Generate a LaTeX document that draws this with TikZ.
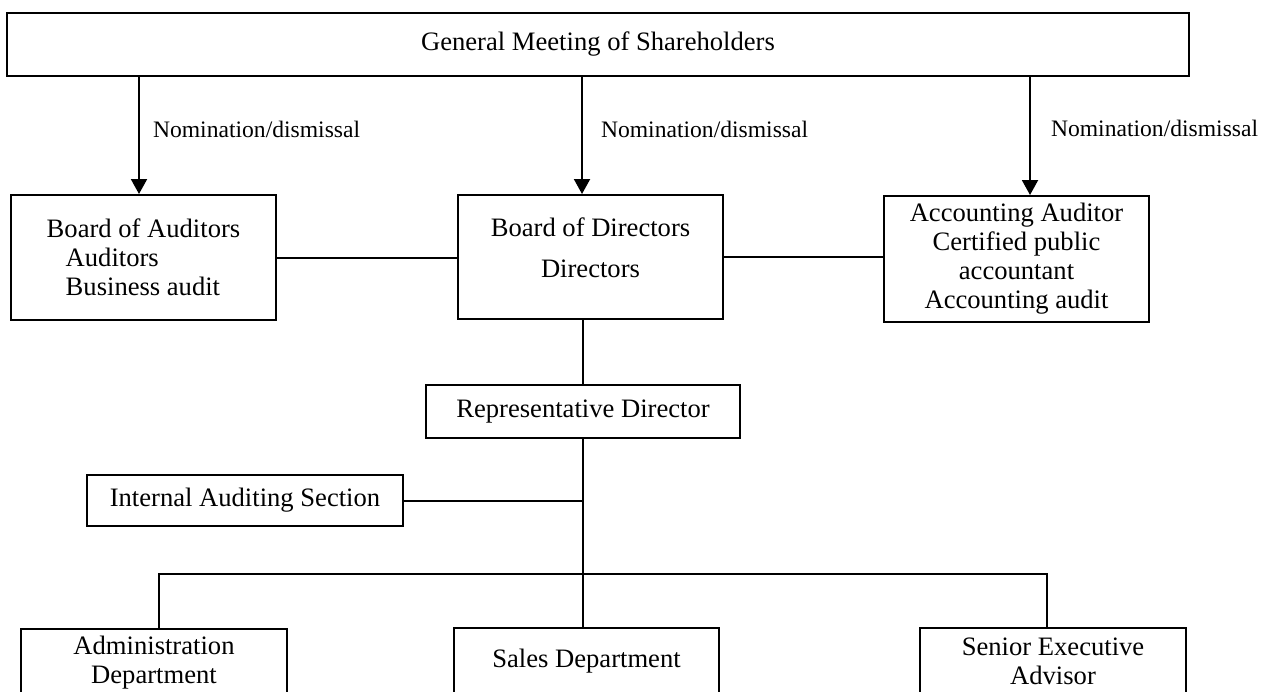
\documentclass[tikz,border=0pt]{standalone}
\usepackage{fontspec}
\setmainfont{Liberation Serif}
\usepackage{tikz}
\usetikzlibrary{positioning,arrows.meta}

\begin{document}
\begin{tikzpicture}[
  x=0.5pt, y=-0.5pt,
  box/.style   = {rectangle, draw, line width=1pt, inner sep=0pt, align=center,
                  font=\fontsize{13.3}{14.5}\selectfont},
  line/.style  = {line width=1pt},
  arrow/.style = {-{Triangle[length=7.5pt,width=8pt]}, line width=1pt},
  lbl/.style   = {font=\fontsize{11.8}{14}\selectfont, inner sep=0pt, anchor=west}
]
  \path[use as bounding box, clip] (0,0) rectangle (1261,691);

  % ---- Row 0: shareholders ----
  \node[box, minimum width=591pt, minimum height=31.5pt] at (598, 44.5) (gms) {General Meeting of Shareholders};

  % ---- Row 1: boards ----
  \node[box, minimum width=132.5pt, minimum height=62.5pt, align=left] at (143.5, 257.5) (boa)
    {Board of Auditors\\\hspace*{9.5pt}Auditors\\\hspace*{9.5pt}Business audit};
  \node[box, minimum width=132.5pt, minimum height=62pt] at (590.5, 257) (bod)
    {Board of Directors\\[6pt]Directors\\[-5.5pt]\mbox{}};
  \node[box, minimum width=132.5pt, minimum height=63pt] at (1016.5, 259) (acc)
    {Accounting Auditor\\Certified public\\accountant\\Accounting audit};

  % ---- Row 2: executive ----
  \node[box, minimum width=157pt, minimum height=26.5pt] at (583, 411.5) (rep) {Representative Director};
  \node[box, minimum width=158pt, minimum height=25.5pt] at (245, 500.5) (ias) {Internal Auditing Section};

  % ---- Row 3: departments (cut off by the page edge) ----
  \node[box, minimum width=133pt, minimum height=34pt] at (154, 663)    (adm) {Administration\\Department};
  \node[box, minimum width=132.5pt, minimum height=33pt] at (586.5, 661) (sal) {Sales Department};
  \node[box, minimum width=133pt, minimum height=33pt] at (1053, 661)   (sen) {Senior Executive\\Advisor};

  \coordinate (bus) at (583, 574);

  % ---- Arrows ----
  \draw[arrow] ([xshift=-2.25pt]boa.north |- gms.south) -- node[lbl, pos=0.45, xshift=6.5pt]{Nomination/dismissal} ([xshift=-2.25pt]boa.north);
  \draw[arrow] ([xshift=-4.25pt]bod.north |- gms.south) -- node[lbl, pos=0.45, xshift=9pt]{Nomination/dismissal} ([xshift=-4.25pt]bod.north);
  \draw[arrow] ([xshift=6.75pt]acc.north |- gms.south)  -- node[lbl, pos=0.44, xshift=10pt]{Nomination/dismissal} ([xshift=6.75pt]acc.north);

  % ---- Plain links ----
  \draw[line] (boa.east) -- (boa.east -| bod.west);
  \draw[line] (bod.east) -- (bod.east -| acc.west);
  \draw[line] (bod.south -| rep.north) -- (rep.north);
  \draw[line] (rep.south) -- (sal.north -| rep.south);
  \draw[line] (ias.east) -- (ias.east -| rep.south);
  \draw[line] ([xshift=2.5pt]adm.north) |- (bus) -| ([xshift=-3pt]sen.north);
\end{tikzpicture}
\end{document}
